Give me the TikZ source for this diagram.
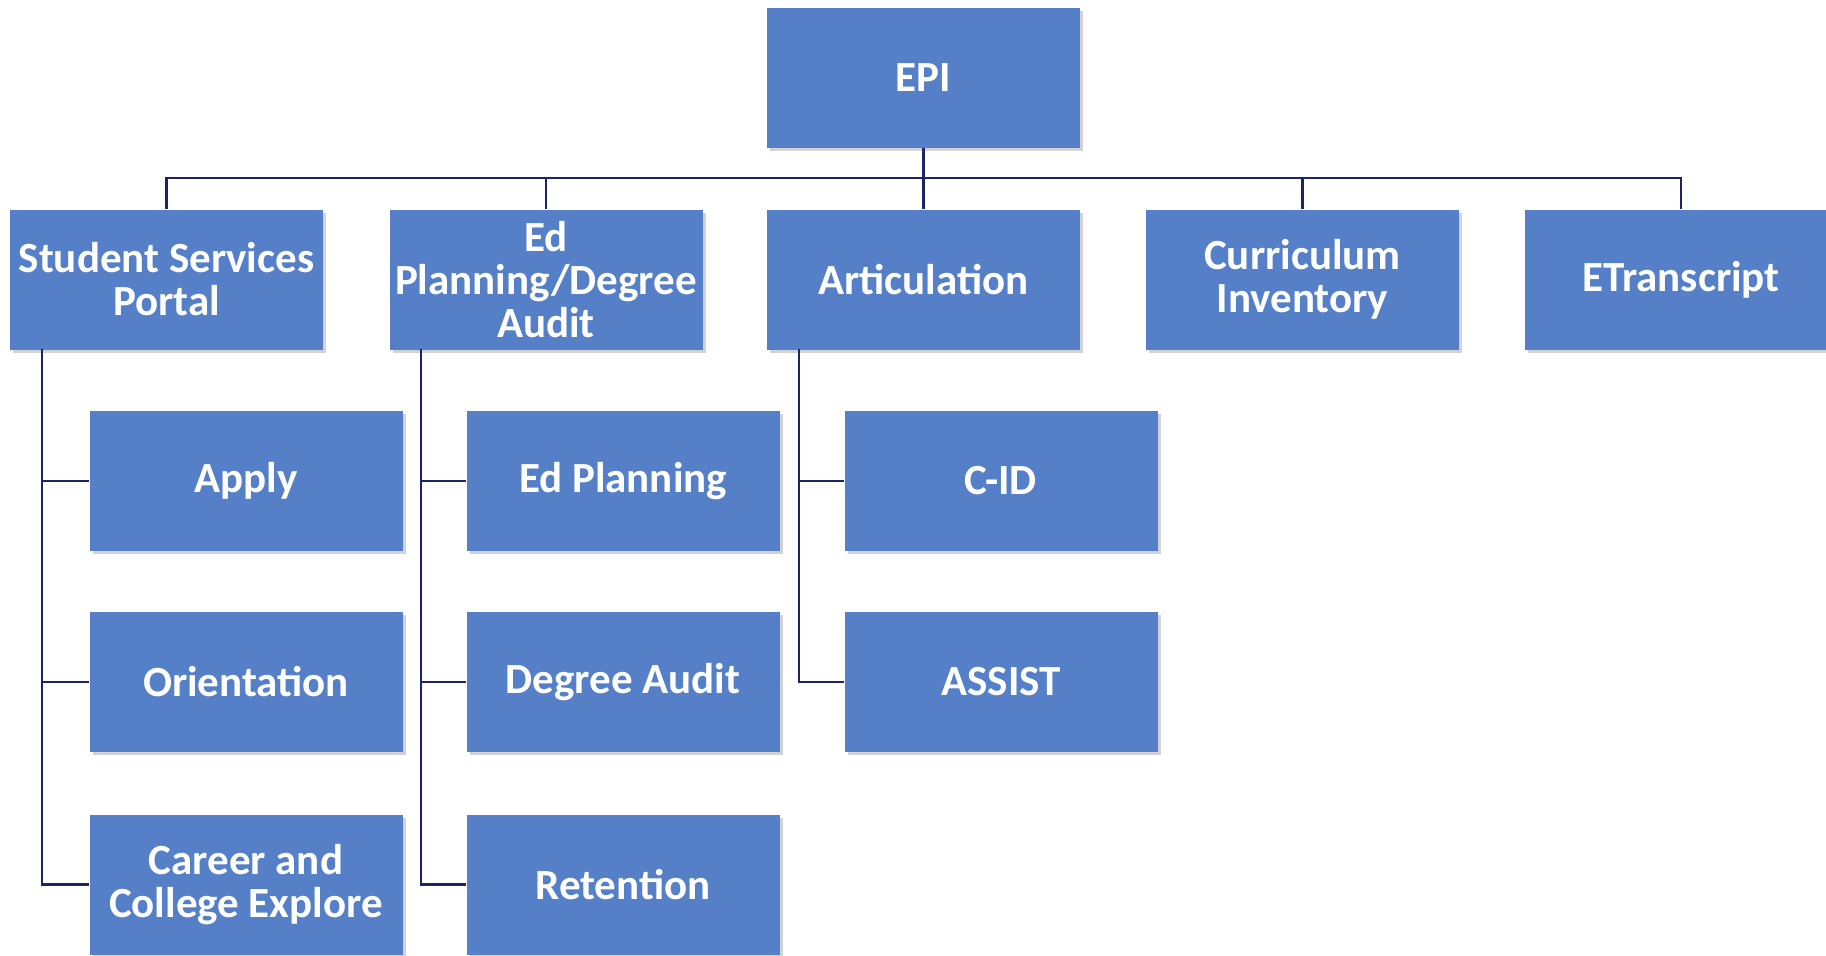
\documentclass[tikz,border=0pt]{standalone}
\usepackage{fontspec}
\setmainfont{Carlito}
\usetikzlibrary{shadows}
\definecolor{boxblue}{HTML}{5580C8}
\definecolor{linenavy}{HTML}{1B2468}
\begin{document}
\begin{tikzpicture}[x=0.5pt,y=-0.5pt,
  orgbox/.style={draw=none,fill=boxblue,minimum width=156.5pt,minimum height=70pt,
    text=white,font=\bfseries\fontsize{21.5}{21.5}\selectfont,align=center,inner sep=0pt,
    drop shadow={shadow xshift=1.5pt,shadow yshift=-1.5pt,fill=black!35,opacity=0.5}},
  link/.style={draw=linenavy,line width=1.4pt}]
\useasboundingbox (0,0) rectangle (1826,955);
\clip (0,0) rectangle (1826,955);
\node[orgbox] (epi) at (923.5,77.5) {EPI};
\node[orgbox] (ssp) at (166.5,279.5) {Student Services\\Portal};
\node[orgbox] (edp) at (546,279.5) {Ed\\Planning/Degree\\Audit};
\node[orgbox] (art) at (923.5,279.5) {Articulation};
\node[orgbox] (cur) at (1302.5,279.5) {Curriculum\\Inventory};
\node[orgbox] (etr) at (1681,279.5) {ETranscript};
\node[orgbox] (app) at (246,481) {Apply};
\node[orgbox] (ori) at (246,682) {Orientation};
\node[orgbox] (car) at (246,884.5) {Career and\\College Explore};
\node[orgbox] (edpl) at (623,481) {Ed Planning};
\node[orgbox] (dga) at (623,682) {Degree Audit};
\node[orgbox] (ret) at (623,884.5) {Retention};
\node[orgbox] (cid) at (1001,481) {C-ID};
\node[orgbox] (asi) at (1001,682) {ASSIST};
\coordinate (bus) at (923.5,178);
\draw[link] (epi.south) -- (bus);
\draw[link] (ssp.north) -- (ssp.north |- bus) -- (etr.north |- bus) -- (etr.north);
\draw[link] (edp.north) -- (edp.north |- bus);
\draw[link] (art.north) -- (art.north |- bus);
\draw[link] (cur.north) -- (cur.north |- bus);
\coordinate (s1) at (42,349);
\coordinate (s2) at (421,349);
\coordinate (s3) at (799,349);
\draw[link] (s1) -- (s1 |- car.west) -- (car.west);
\draw[link] (s1 |- app.west) -- (app.west);
\draw[link] (s1 |- ori.west) -- (ori.west);
\draw[link] (s2) -- (s2 |- ret.west) -- (ret.west);
\draw[link] (s2 |- edpl.west) -- (edpl.west);
\draw[link] (s2 |- dga.west) -- (dga.west);
\draw[link] (s3) -- (s3 |- asi.west) -- (asi.west);
\draw[link] (s3 |- cid.west) -- (cid.west);
\end{tikzpicture}
\end{document}
